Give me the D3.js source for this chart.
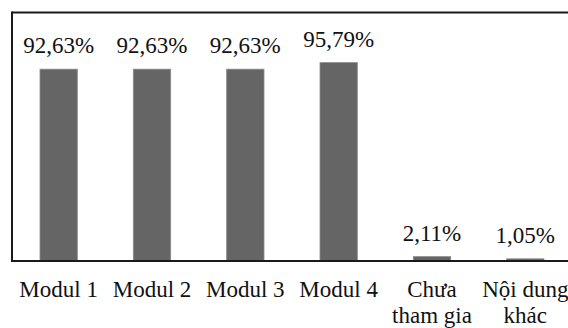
<!DOCTYPE html>
<html><head><meta charset="utf-8">
<script src="https://cdn.jsdelivr.net/npm/d3@7"></script>
<style>body{margin:0;background:#fff}svg{display:block}svg text{font-family:"Liberation Serif","Times New Roman",serif;font-size:23px;fill:#111}</style>
</head><body>
<script>
const categories = [["Modul 1"],["Modul 2"],["Modul 3"],["Modul 4"],["Chưa","tham gia"],["Nội dung","khác"]];
const values = [92.63, 92.63, 92.63, 95.79, 2.11, 1.05];
const valueLabels = ["92,63%","92,63%","92,63%","95,79%","2,11%","1,05%"];

const W = 568, H = 328;
const svg = d3.select("body").append("svg").attr("width", W).attr("height", H);
const pLeft = 12, pRight = 572, pTop = 12.5, pBottom = 261;
const x = d3.scaleBand().domain(d3.range(values.length)).range([pLeft, pRight]).paddingInner(0.6).paddingOuter(0.3);
const y = d3.scaleLinear().domain([0, 120]).range([pBottom, pTop]);

svg.selectAll("rect.bar").data(values).join("rect")
  .attr("class","bar")
  .attr("x", (d,i) => x(i)).attr("width", x.bandwidth())
  .attr("y", d => y(d)).attr("height", d => pBottom - y(d))
  .attr("fill", "#656565").attr("stroke", "#8a8a8a").attr("stroke-width", 0.8);

svg.selectAll("text.val").data(values).join("text")
  .attr("class","val")
  .attr("x", (d,i) => x(i) + x.bandwidth()/2)
  .attr("y", d => y(d) - 16)
  .attr("text-anchor","middle")
  .text((d,i) => valueLabels[i]);

// frame: top line and left line
svg.append("line").attr("x1", pLeft).attr("x2", W + 5).attr("y1", y(120)).attr("y2", y(120))
  .attr("stroke", "#1a1a1a").attr("stroke-width", 2);
svg.append("line").attr("x1", pLeft).attr("x2", pLeft).attr("y1", y(120) - 1).attr("y2", pBottom + 1)
  .attr("stroke", "#1a1a1a").attr("stroke-width", 2);
// bottom axis
const xAxis = d3.axisBottom(x).tickSize(0).tickFormat("");
const ax = svg.append("g").attr("transform", `translate(0,${pBottom})`).call(xAxis);
ax.select(".domain").attr("stroke","#1a1a1a").attr("stroke-width",2).attr("d", `M${pLeft - 1},0H${W+5}`);

const lab = svg.selectAll("text.cat").data(categories).join("text")
  .attr("class","cat")
  .attr("text-anchor","middle");
lab.each(function(lines, i){
  const t = d3.select(this);
  lines.forEach((s, j) => {
    t.append("tspan").attr("x", x(i) + x.bandwidth()/2).attr("y", 297 + j*26).text(s);
  });
});
</script>
</body></html>
